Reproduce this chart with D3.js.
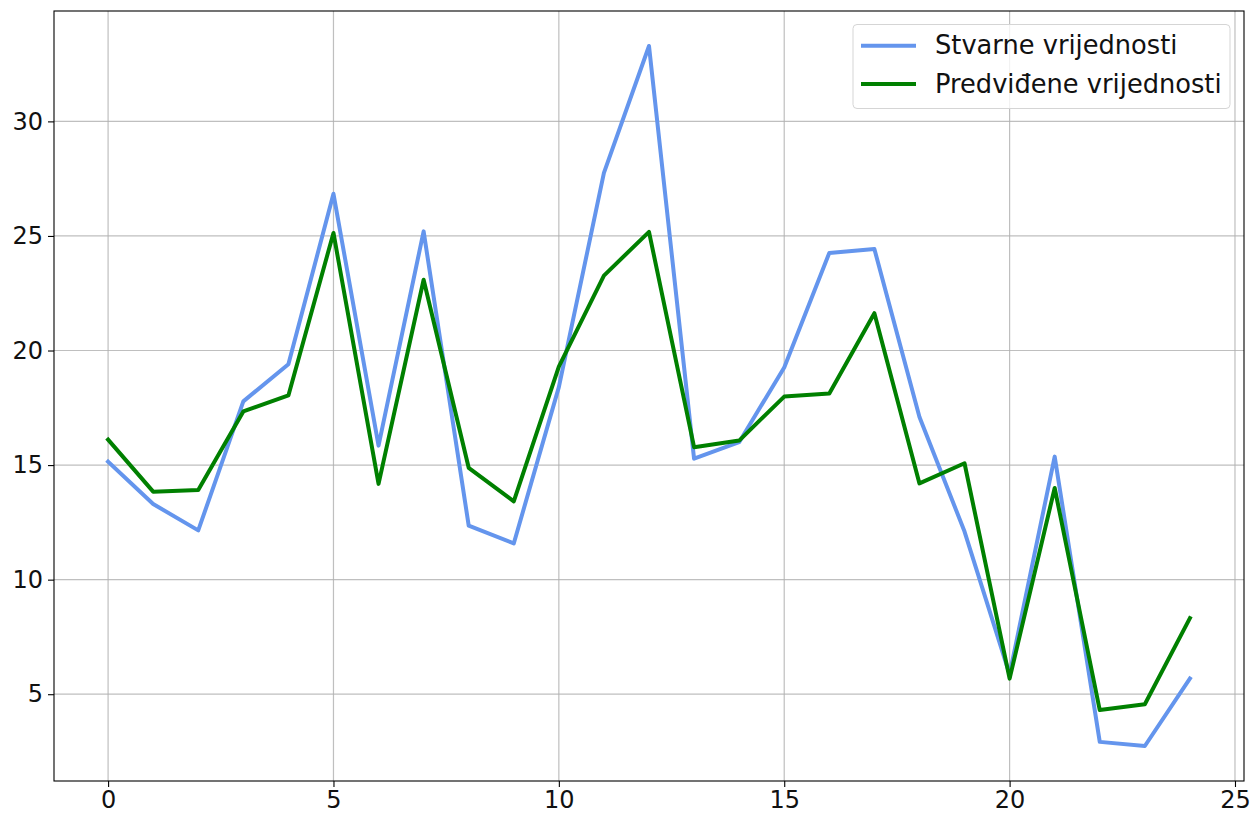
<!DOCTYPE html>
<html><head><meta charset="utf-8">
<script src="https://cdn.jsdelivr.net/npm/d3@7"></script>
<style>
html,body{margin:0;padding:0;background:#fff;}
svg{display:block;font-family:"DejaVu Sans",sans-serif;}
</style></head>
<body><svg id="c" width="1252" height="813"></svg>
<script>
const xIndex = [0,1,2,3,4,5,6,7,8,9,10,11,12,13,14,15,16,17,18,19,20,21,22,23,24];
const actualValues = [15.15,13.3,12.15,17.78,19.4,26.84,15.85,25.2,12.36,11.58,18.4,27.75,33.29,15.28,16.0,19.26,24.26,24.43,17.1,12.1,5.87,15.37,2.92,2.74,5.68];
const predictedValues = [16.11,13.84,13.91,17.34,18.04,25.13,14.18,23.09,14.88,13.42,19.3,23.27,25.18,15.78,16.07,17.99,18.12,21.63,14.2,15.08,5.68,14.0,4.31,4.56,8.32];
const xTicks = [0,5,10,15,20,25];
const yTicks = [5,10,15,20,25,30];
const seriesNames = ["Stvarne vrijednosti","Predviđene vrijednosti"];
const seriesColors = ["#6495ED","#008000"];

const svg = d3.select("#c");
const L=54, R=1244, T=11, B=781;
const x = d3.scaleLinear().domain([-1.2,25.2]).range([L,R]);
const all = actualValues.concat(predictedValues);
const mn = d3.min(all), mx = d3.max(all), pad=(mx-mn)*0.05;
const y = d3.scaleLinear().domain([mn-pad,mx+pad]).range([B,T]);

// grid
const g = svg.append("g");
g.selectAll("line.gx").data(xTicks).enter().append("line")
 .attr("x1",d=>x(d)).attr("x2",d=>x(d)).attr("y1",T).attr("y2",B)
 .attr("stroke","#b0b0b0").attr("stroke-width",1.2).attr("opacity",0.8);
g.selectAll("line.gy").data(yTicks).enter().append("line")
 .attr("y1",d=>y(d)).attr("y2",d=>y(d)).attr("x1",L).attr("x2",R)
 .attr("stroke","#b0b0b0").attr("stroke-width",1.2).attr("opacity",0.8);

// axes
const xa = svg.append("g").attr("transform",`translate(0,${B})`)
 .call(d3.axisBottom(x).tickValues(xTicks).tickSize(6).tickPadding(4).tickFormat(d3.format("d")));
const ya = svg.append("g").attr("transform",`translate(${L},0)`)
 .call(d3.axisLeft(y).tickValues(yTicks).tickSize(6).tickPadding(5).tickFormat(d3.format("d")));
[xa,ya].forEach(a=>{
  a.select(".domain").remove();
  a.selectAll("line").attr("stroke","#000").attr("stroke-width",1.1);
  a.selectAll("text").attr("font-size",24).attr("fill","#111").attr("font-family","DejaVu Sans");
});

// lines
const line = d3.line().x((d,i)=>x(xIndex[i])).y(d=>y(d));
[actualValues,predictedValues].forEach((vals,k)=>{
  svg.append("path").datum(vals).attr("d",line).attr("fill","none")
   .attr("stroke",seriesColors[k]).attr("stroke-width",4)
   .attr("stroke-linejoin","round").attr("stroke-linecap","square");
});

// frame
svg.append("rect").attr("x",L).attr("y",T).attr("width",R-L).attr("height",B-T)
 .attr("fill","none").attr("stroke","#000").attr("stroke-width",1.1);

// legend
const lg = svg.append("g");
lg.append("rect").attr("x",853).attr("y",24.5).attr("width",377).attr("height",84).attr("rx",4)
 .attr("fill","#fff").attr("fill-opacity",0.8).attr("stroke","#d5d5d5").attr("stroke-width",1);
seriesNames.forEach((nm,k)=>{
  const yy = 45.7 + k*38.3;
  lg.append("line").attr("x1",861).attr("x2",916).attr("y1",yy).attr("y2",yy)
   .attr("stroke",seriesColors[k]).attr("stroke-width",4);
  lg.append("text").attr("x",935).attr("y",yy+8.5).attr("font-size",25.7)
   .attr("fill","#111").text(nm);
});
</script></body></html>
